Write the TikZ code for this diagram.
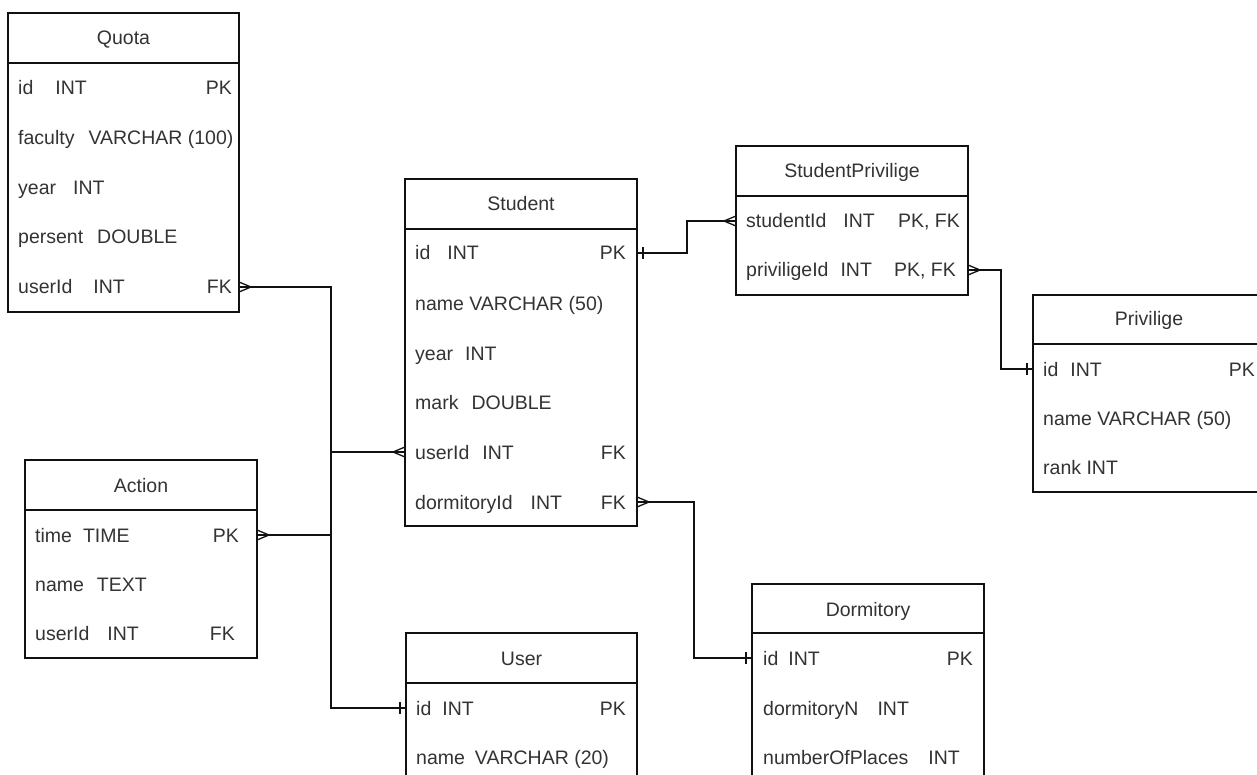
\documentclass[tikz,border=0pt]{standalone}
\usepackage{fontspec}
\setmainfont{Liberation Sans}
\usetikzlibrary{calc}
\definecolor{txt}{HTML}{333333}
\definecolor{ln}{HTML}{111111}
\newcommand\manyR[1]{\draw[conn] ($(#1)+(0,-5)$) -- ++(12,5) -- ++(-12,5);}
\newcommand\manyL[1]{\draw[conn] ($(#1)+(0,-5)$) -- ++(-12,5) -- ++(12,5);}
\newcommand\oneR[1]{\draw[conn] ($(#1)+(6,-6)$) -- ++(0,12);}
\newcommand\oneL[1]{\draw[conn] ($(#1)+(-6,-6)$) -- ++(0,12);}
\begin{document}
\begin{tikzpicture}[x=1pt,y=-1pt,
  tbl/.style={draw=ln, line width=1.3pt, fill=white, inner sep=0pt, outer sep=0pt, anchor=north west, minimum width=232pt},
  hdr/.style={draw=ln, line width=1.3pt},
  conn/.style={draw=ln, line width=1.3pt},
  cell/.style={text=txt, inner sep=0pt, text height=14pt, text depth=0pt, font=\fontsize{19.5}{23}\selectfont},
  lt/.style={cell, anchor=west},
  rt/.style={cell, anchor=east},
  ttl/.style={cell, anchor=center}]
\useasboundingbox (0,0) rectangle (1257,775);
\fill[white] (0,0) rectangle (1257,775);

% ---------- Quota ----------
\node[tbl, minimum width=231pt, minimum height=299pt] (quota) at (8,13) {};
\draw[hdr] (8,63) -- (239,63);
\node[ttl] (quotaT) at (123.5,38) {Quota};
\node[lt] (q1) at (18,88) {id\hspace{22pt}INT};
\node[rt] (q1k) at (232,88) {PK};
\node[lt] (q2) at (18,138) {faculty\hspace{14pt}VARCHAR (100)};
\node[lt] (q3) at (18,188) {year\hspace{17pt}INT};
\node[lt] (q4) at (18,237) {persent\hspace{14pt}DOUBLE};
\node[lt] (q5) at (18,287) {userId\hspace{21pt}INT};
\node[rt] (q5k) at (232,287) {FK};

% ---------- Student ----------
\node[tbl, minimum height=347pt] (student) at (405,179) {};
\draw[hdr] (405,229) -- (637,229);
\node[ttl] (studentT) at (521,204) {Student};
\node[lt] (s1) at (415,253) {id\hspace{17pt}INT};
\node[rt] (s1k) at (626,253) {PK};
\node[lt] (s2) at (415,303) {name VARCHAR (50)};
\node[lt] (s3) at (415,353) {year\hspace{12pt}INT};
\node[lt] (s4) at (415,402) {mark\hspace{13pt}DOUBLE};
\node[lt] (s5) at (415,452) {userId\hspace{13pt}INT};
\node[rt] (s5k) at (626,452) {FK};
\node[lt] (s6) at (415,502) {dormitoryId\hspace{18pt}INT};
\node[rt] (s6k) at (626,502) {FK};

% ---------- StudentPrivilige ----------
\node[tbl, minimum height=149pt] (sp) at (736,146) {};
\draw[hdr] (736,196) -- (968,196);
\node[ttl] (spT) at (852,171) {StudentPrivilige};
\node[lt] (sp1) at (746,221) {studentId\hspace{17pt}INT};
\node[rt] (sp1k) at (960,221) {PK, FK};
\node[lt] (sp2) at (746,270) {priviligeId\hspace{12pt}INT};
\node[rt] (sp2k) at (956,270) {PK, FK};

% ---------- Privilige (cut by the right edge) ----------
\node[tbl, minimum width=260pt, minimum height=197pt] (priv) at (1033,295) {};
\draw[hdr] (1033,344) -- (1293,344);
\node[ttl] (privT) at (1149,319) {Privilige};
\node[lt] (p1) at (1043,369) {id\hspace{12pt}INT};
\node[rt] (p1k) at (1255,369) {PK};
\node[lt] (p2) at (1043,418) {name VARCHAR (50)};
\node[lt] (p3) at (1043,467) {rank INT};

% ---------- Action ----------
\node[tbl, minimum height=198pt] (action) at (25,460) {};
\draw[hdr] (25,510) -- (257,510);
\node[ttl] (actionT) at (141,485) {Action};
\node[lt] (a1) at (35,535) {time\hspace{11pt}TIME};
\node[rt] (a1k) at (239,535) {PK};
\node[lt] (a2) at (35,584) {name\hspace{13pt}TEXT};
\node[lt] (a3) at (35,633) {userId\hspace{18pt}INT};
\node[rt] (a3k) at (235,633) {FK};

% ---------- User ----------
\node[tbl, minimum width=231pt, minimum height=200pt] (user) at (406,633) {};
\draw[hdr] (406,683) -- (637,683);
\node[ttl] (userT) at (521.5,658) {User};
\node[lt] (u1) at (416,708) {id\hspace{11pt}INT};
\node[rt] (u1k) at (626,708) {PK};
\node[lt] (u2) at (416,757) {name\hspace{10pt}VARCHAR (20)};

% ---------- Dormitory ----------
\node[tbl, minimum height=200pt] (dorm) at (752,584) {};
\draw[hdr] (752,633) -- (984,633);
\node[ttl] (dormT) at (868,609) {Dormitory};
\node[lt] (d1) at (763,658) {id\hspace{10pt}INT};
\node[rt] (d1k) at (973,658) {PK};
\node[lt] (d2) at (763,708) {dormitoryN\hspace{19pt}INT};
\node[lt] (d3) at (763,757) {numberOfPlaces\hspace{20pt}INT};

% ---------- connector end points ----------
\coordinate (jx) at (331,0);
\coordinate (qfk) at (quota.east |- q5);
\coordinate (sid) at (student.east |- s1);
\coordinate (suid) at (student.west |- s5);
\coordinate (sdid) at (student.east |- s6);
\coordinate (spsid) at (sp.west |- sp1);
\coordinate (sppid) at (sp.east |- sp2);
\coordinate (pid) at (priv.west |- p1);
\coordinate (atime) at (action.east |- a1);
\coordinate (uid) at (user.west |- u1);
\coordinate (did) at (dorm.west |- d1);
\coordinate (b1) at (687,0);
\coordinate (b2) at (1001,0);
\coordinate (b3) at (694,0);

% ---------- connectors ----------
\draw[conn] (qfk) -- (jx |- qfk) -- (jx |- uid) -- (uid);
\draw[conn] (jx |- suid) -- (suid);
\draw[conn] (atime) -- (jx |- atime);
\draw[conn] (sid) -- (b1 |- sid) -- (b1 |- spsid) -- (spsid);
\draw[conn] (sppid) -- (b2 |- sppid) -- (b2 |- pid) -- (pid);
\draw[conn] (sdid) -- (b3 |- sdid) -- (b3 |- did) -- (did);

% ---------- cardinality marks ----------
\manyR{qfk}
\manyL{suid}
\manyR{atime}
\oneL{uid}
\oneR{sid}
\manyL{spsid}
\manyR{sppid}
\oneL{pid}
\manyR{sdid}
\oneL{did}
\end{tikzpicture}
\end{document}
